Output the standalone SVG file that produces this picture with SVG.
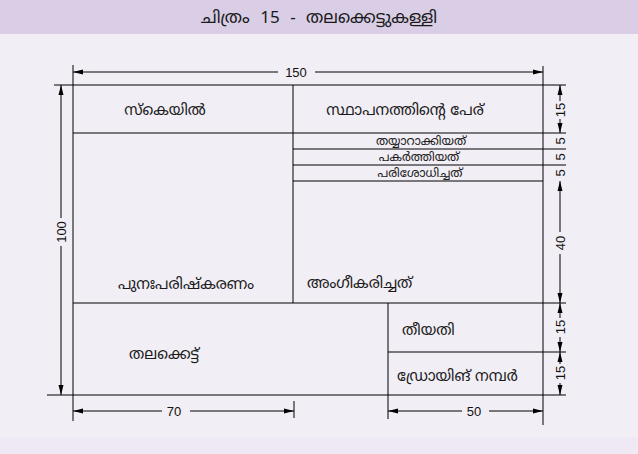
<svg xmlns="http://www.w3.org/2000/svg" width="638" height="454" viewBox="0 0 638 454">
<style>
.ln{stroke:#000;stroke-width:1;fill:none}
.ml{font-family:"Noto Sans Malayalam","Noto Sans","DejaVu Sans",sans-serif;fill:#1a1a1a;font-size:15px;text-anchor:middle}
.sm{font-size:12px}
.dn{font-family:"Liberation Sans",Arial,sans-serif;font-size:13px;fill:#111;text-anchor:middle}
</style>
<defs>
<marker id="ae" viewBox="0 0 10 6" refX="10" refY="3" markerWidth="10" markerHeight="6" markerUnits="userSpaceOnUse" orient="auto"><path d="M0,0.5 L10,3 L0,5.5 Z" fill="#000"/></marker>
<marker id="as" viewBox="0 0 10 6" refX="0" refY="3" markerWidth="10" markerHeight="6" markerUnits="userSpaceOnUse" orient="auto"><path d="M10,0.5 L0,3 L10,5.5 Z" fill="#000"/></marker>
</defs>
<rect x="0" y="0" width="638" height="454" fill="#f1eef5"/>
<rect x="0" y="437" width="638" height="17" fill="#eee9f4"/>
<rect x="0" y="0" width="638" height="34" fill="#d9cee6"/>
<text x="319" y="23" class="ml" style="font-size:17px" xml:space="preserve">ചിത്രം  15  -  തലക്കെട്ടുകള്ളി</text>

<g id="frame">
<rect x="73" y="85" width="470" height="310" class="ln"/>
</g>
<g id="cell-scale">
<path d="M73,133 H293" class="ln"/>
<text x="165" y="115" class="ml">സ്കെയിൽ</text>
</g>
<g id="cell-institution">
<path d="M293,85 V303 M293,133 H543" class="ln"/>
<text x="405" y="115" class="ml">സ്ഥാപനത്തിന്റെ പേര്</text>
</g>
<g id="cell-prepared">
<path d="M293,149 H543" class="ln"/>
<text x="421" y="145" class="ml sm">തയ്യാറാക്കിയത്</text>
</g>
<g id="cell-copied">
<path d="M293,165 H543" class="ln"/>
<text x="419" y="161" class="ml sm">പകർത്തിയത്</text>
</g>
<g id="cell-checked">
<path d="M293,181 H543" class="ln"/>
<text x="420" y="177" class="ml sm">പരിശോധിച്ചത്</text>
</g>
<g id="cell-revision">
<text x="186" y="289" class="ml">പുനഃപരിഷ്കരണം</text>
</g>
<g id="cell-approved">
<text x="307" y="288" class="ml" style="text-anchor:start">അംഗീകരിച്ചത്</text>
</g>
<g id="cell-title">
<path d="M73,303 H543" class="ln"/>
<text x="164" y="359" class="ml">തലക്കെട്ട്</text>
</g>
<g id="cell-date">
<path d="M388,303 V395 M388,352 H543" class="ln"/>
<text x="402" y="335" class="ml" style="text-anchor:start">തീയതി</text>
</g>
<g id="cell-drawingno">
<text x="397" y="381" class="ml" style="text-anchor:start">ഡ്രോയിങ് നമ്പർ</text>
</g>

<g id="connectors">
<path d="M73,65 V85 M73,395 V421 M543,66 V85 M543,395 V425 M294,401 V418 M388,395 V419" class="ln"/>
<path d="M54,85 H73 M47,395 H73" class="ln"/>
<path d="M543,85 H566 M543,133 H566 M543,149 H566 M543,165 H566 M543,303 H566 M543,352 H566 M543,395 H566" class="ln"/>
<path d="M73,72 H278" class="ln" style="marker-start:url(#as)"/>
<path d="M315,72 H543" class="ln" style="marker-end:url(#ae)"/>
<text x="296" y="77" class="dn">150</text>
<path d="M61,85 V218" class="ln" style="marker-start:url(#as)"/>
<path d="M61,246 V395" class="ln" style="marker-end:url(#ae)"/>
<text transform="translate(65.5,232) rotate(-90)" class="dn">100</text>
<path d="M73,411 H162" class="ln" style="marker-start:url(#as)"/>
<path d="M190,411 H294" class="ln" style="marker-end:url(#ae)"/>
<text x="174" y="416" class="dn">70</text>
<path d="M388,411 H462" class="ln" style="marker-start:url(#as)"/>
<path d="M489,411 H543" class="ln" style="marker-end:url(#ae)"/>
<text x="474" y="416" class="dn">50</text>
<path d="M560,85 V101" class="ln" style="marker-start:url(#as)"/>
<path d="M560,119 V133" class="ln" style="marker-end:url(#ae)"/>
<text transform="translate(564.5,110) rotate(-90)" class="dn">15</text>
<text transform="translate(564.5,141) rotate(-90)" class="dn">5</text>
<text transform="translate(564.5,157) rotate(-90)" class="dn">5</text>
<text transform="translate(564.5,173) rotate(-90)" class="dn">5</text>
<path d="M560,181 V232" class="ln" style="marker-start:url(#as)"/>
<path d="M560,254 V303" class="ln" style="marker-end:url(#ae)"/>
<text transform="translate(564.5,243) rotate(-90)" class="dn">40</text>
<path d="M560,303 V318" class="ln" style="marker-start:url(#as)"/>
<path d="M560,337 V352" class="ln" style="marker-end:url(#ae)"/>
<text transform="translate(564.5,327) rotate(-90)" class="dn">15</text>
<path d="M560,352 V364" class="ln" style="marker-start:url(#as)"/>
<path d="M560,383 V395" class="ln" style="marker-end:url(#ae)"/>
<text transform="translate(564.5,373) rotate(-90)" class="dn">15</text>
</g>
</svg>
